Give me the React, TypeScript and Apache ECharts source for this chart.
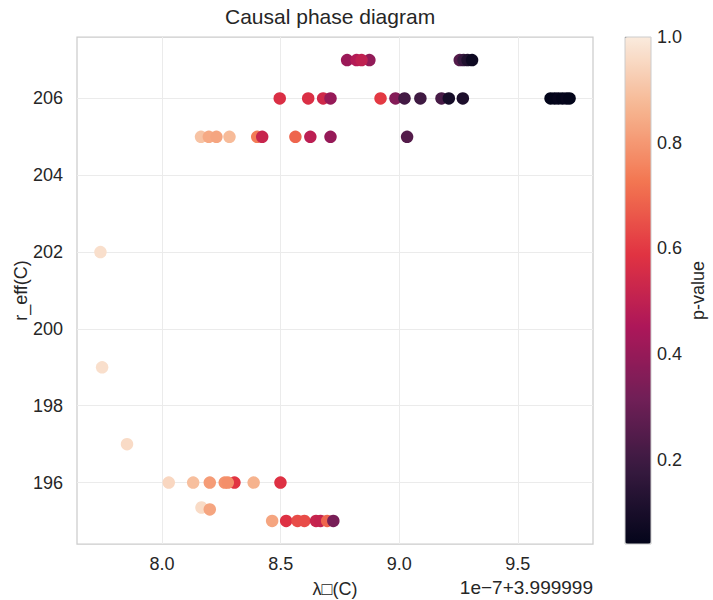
import React, { useEffect, useRef } from "react";
import * as echarts from "echarts";

// λ(C) values, shown on the axis as offsets in units of 1e-7 above 3.999999
const lambdaOffset = [
  8.780, 8.874, 8.820, 8.841, 9.255, 9.271, 9.288, 9.307,
  8.496, 8.616, 8.679, 8.710, 8.921, 8.984, 9.022, 9.089, 9.178, 9.209, 9.268,
  9.638, 9.655, 9.671, 9.688, 9.705, 9.718,
  8.164, 8.197, 8.229, 8.284, 8.401, 8.422, 8.562, 8.625, 8.710, 9.033,
  7.740, 7.747, 7.852,
  8.028, 8.131, 8.201, 8.305, 8.264, 8.277, 8.386, 8.499,
  8.166, 8.201,
  8.464, 8.523, 8.571, 8.600, 8.649, 8.668, 8.696, 8.722,
];
const rEff = [
  207, 207, 207, 207, 207, 207, 207, 207,
  206, 206, 206, 206, 206, 206, 206, 206, 206, 206, 206,
  206, 206, 206, 206, 206, 206,
  205, 205, 205, 205, 205, 205, 205, 205, 205, 205,
  202, 199, 197,
  196, 196, 196, 196, 196, 196, 196, 196,
  195.35, 195.3,
  195, 195, 195, 195, 195, 195, 195, 195,
];
const pValue = [
  0.41, 0.39, 0.47, 0.50, 0.25, 0.18, 0.12, 0.07,
  0.57, 0.57, 0.54, 0.40, 0.60, 0.36, 0.21, 0.20, 0.22, 0.09, 0.11,
  0.04, 0.04, 0.05, 0.04, 0.05, 0.04,
  0.90, 0.84, 0.83, 0.88, 0.74, 0.52, 0.69, 0.49, 0.40, 0.25,
  0.97, 0.97, 0.96,
  0.95, 0.89, 0.81, 0.59, 0.79, 0.78, 0.86, 0.58,
  0.96, 0.83,
  0.83, 0.58, 0.64, 0.64, 0.52, 0.51, 0.69, 0.33,
];

const xTicks = [8.0, 8.5, 9.0, 9.5];
const yTicks = [196, 198, 200, 202, 204, 206];
const cbarTicks = [0.2, 0.4, 0.6, 0.8, 1.0];
const pMin = 0.04;
const pMax = 1.0;
// seaborn "rocket" colormap stops (evenly spaced)
const rocket = ["#03051a", "#35193e", "#701f57", "#ad1759", "#e13342", "#f37651", "#f6b48f", "#faebdd"];

const FONT = "'Liberation Sans', Arial, sans-serif";
const TXT = "#262626";

function padRange(vals: number[], frac = 0.05): [number, number] {
  const lo = Math.min(...vals);
  const hi = Math.max(...vals);
  const r = hi - lo;
  return [lo - r * frac, hi + r * frac];
}

export default function App() {
  const ref = useRef<HTMLDivElement>(null);
  useEffect(() => {
    if (!ref.current) return;
    const chart = echarts.init(ref.current, null, { renderer: "svg" });
    const [xMin, xMax] = padRange(lambdaOffset);
    const [yMin, yMax] = padRange(rEff);
    const data = lambdaOffset.map((x, i) => [x, rEff[i], pValue[i]]);

    const option: any = {
      animation: false,
      backgroundColor: "#ffffff",
      textStyle: { fontFamily: FONT },
      grid: [
        {
          left: 77, top: 37, right: 120, bottom: 56,
          show: true, borderColor: "#cccccc", borderWidth: 1.25,
          backgroundColor: "#ffffff", containLabel: false, outerBoundsMode: "none",
        },
        { left: 625, top: 37, width: 26, bottom: 56, show: false, containLabel: false, outerBoundsMode: "none" },
      ],
      xAxis: [
        {
          type: "value", gridIndex: 0, min: xMin, max: xMax,
          axisLine: { show: false },
          axisTick: { show: false, customValues: xTicks },
          axisLabel: {
            customValues: xTicks, formatter: (v: number) => v.toFixed(1),
            fontSize: 18, color: TXT, margin: 11, fontFamily: FONT,
          },
          splitLine: { show: true, lineStyle: { color: "#ebebeb", width: 1 } },
          name: "λ□(C)", nameLocation: "middle", nameGap: 36, nameMoveOverlap: false,
          nameTextStyle: { fontSize: 18, color: TXT, fontFamily: FONT },
        },
        { type: "value", gridIndex: 1, show: false, min: 0, max: 1 },
      ],
      yAxis: [
        {
          type: "value", gridIndex: 0, min: yMin, max: yMax,
          axisLine: { show: false },
          axisTick: { show: false, customValues: yTicks },
          axisLabel: {
            customValues: yTicks, fontSize: 18, color: TXT, margin: 14, fontFamily: FONT,
          },
          splitLine: { show: true, lineStyle: { color: "#ebebeb", width: 1 } },
          name: "r_eff(C)", nameLocation: "middle", nameGap: 47, nameRotate: 90, nameMoveOverlap: false,
          nameTextStyle: { fontSize: 18, color: TXT, fontFamily: FONT },
        },
        {
          type: "value", gridIndex: 1, position: "right", min: pMin, max: pMax,
          axisLine: { show: false },
          axisTick: { show: true, length: 5, customValues: cbarTicks, lineStyle: { color: TXT, width: 1 } },
          axisLabel: {
            customValues: cbarTicks, formatter: (v: number) => v.toFixed(1),
            fontSize: 18, color: TXT, margin: 6, fontFamily: FONT,
          },
          splitLine: { show: false },
          name: "p-value", nameLocation: "middle", nameGap: 38, nameRotate: 90,
          nameTextStyle: { fontSize: 18, color: TXT, fontFamily: FONT },
        },
      ],
      visualMap: {
        type: "continuous", seriesIndex: 0, dimension: 2,
        min: pMin, max: pMax, inRange: { color: rocket },
        left: 625, top: 37, itemWidth: 26, itemHeight: 507, padding: 0,
        calculable: false, hoverLink: false, orient: "vertical", z: 5,
      },
      series: [
        {
          type: "scatter", xAxisIndex: 0, yAxisIndex: 0, data,
          symbol: "circle", symbolSize: 12.5, itemStyle: { opacity: 1 },
        },
        { type: "scatter", xAxisIndex: 1, yAxisIndex: 1, data: [] },
      ],
      graphic: [
        {
          type: "text", left: 335 - 110, top: 6, z: 10,
          style: {
            text: "Causal phase diagram", x: 0, y: 0,
            fill: TXT, font: `21px ${FONT}`,
          },
        },
        {
          type: "text", right: 713 - 593, top: 578, z: 10,
          style: { text: "1e\u22127+3.999999", fill: TXT, font: `19px ${FONT}` },
        },
        {
          type: "rect", z: 20, silent: true,
          shape: { x: 625, y: 37, width: 26, height: 507 },
          style: { fill: "none", stroke: "#cccccc", lineWidth: 1 },
        },
      ],
    };
    chart.setOption(option);
    return () => chart.dispose();
  }, []);
  return (
    <div
      ref={ref}
      style={{ position: "fixed", left: 0, top: 0, width: 713, height: 600, background: "#fff" }}
    />
  );
}
